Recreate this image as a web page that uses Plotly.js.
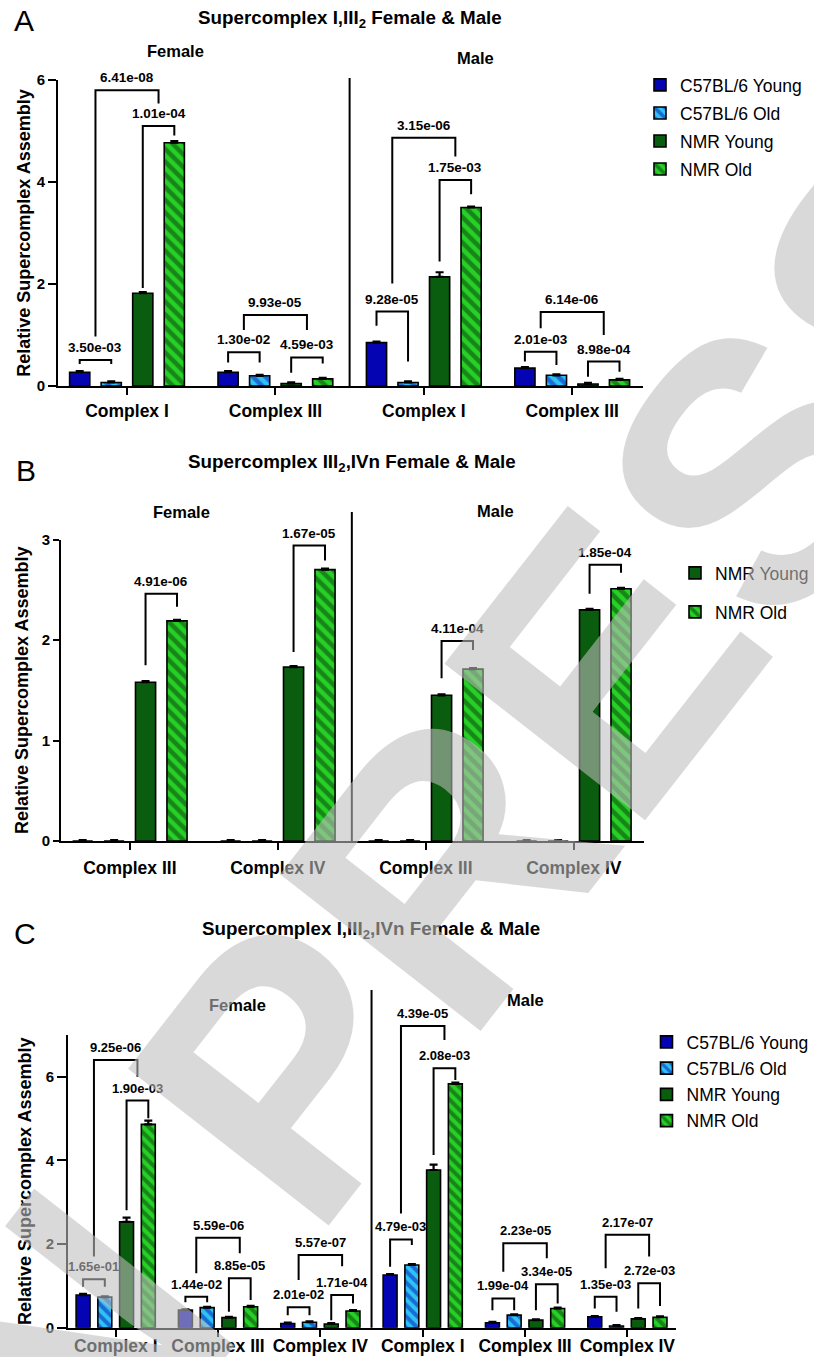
<!DOCTYPE html>
<html><head><meta charset="utf-8">
<script src="https://cdn.plot.ly/plotly-3.0.1.min.js"></script>
<style>html,body{margin:0;padding:0;background:#fff}</style>
</head><body><div id="chart" style="width:814px;height:1357px"></div>
<script>
// ---------------- DATA ----------------
const seriesNames = ['C57BL/6 Young', 'C57BL/6 Old', 'NMR Young', 'NMR Old'];

// Panel A : Supercomplex I,III2
const catsA = ['Complex I', 'Complex III', 'Complex I', 'Complex III'];
const c57YoungA = [0.27, 0.27, 0.85, 0.35];
const c57OldA   = [0.07, 0.20, 0.07, 0.21];
const nmrYoungA = [1.82, 0.05, 2.14, 0.04];
const nmrOldA   = [4.77, 0.14, 3.50, 0.12];
const semC57YoungA = [0.02, 0.02, 0.02, 0.02];
const semC57OldA   = [0.02, 0.02, 0.02, 0.02];
const semNmrYoungA = [0.02, 0.02, 0.09, 0.02];
const semNmrOldA   = [0.03, 0.02, 0.02, 0.02];
// [group, fromBar, toBar, bracket level, left leg end, right leg end, p-value]
const bracketsA = [
  [0, 0, 1, 0.51, 0.43, 0.43, '3.50e-03'],
  [0, 0.5, 2.5, 5.80, 0.97, 5.54, '6.41e-08'],
  [0, 2, 3, 5.10, 1.92, 4.91, '1.01e-04'],
  [1, 0, 1, 0.66, 0.46, 0.46, '1.30e-02'],
  [1, 0.5, 2.5, 1.39, 1.10, 1.10, '9.93e-05'],
  [1, 2, 3, 0.56, 0.26, 0.44, '4.59e-03'],
  [2, 0, 1, 1.46, 1.18, 0.48, '9.28e-05'],
  [2, 0.5, 2.5, 4.87, 2.01, 4.50, '3.15e-06'],
  [2, 2, 3, 4.04, 2.44, 3.76, '1.75e-03'],
  [3, 0, 1, 0.67, 0.48, 0.41, '2.01e-03'],
  [3, 0.5, 2.5, 1.45, 1.13, 1.00, '6.14e-06'],
  [3, 2, 3, 0.48, 0.18, 0.28, '8.98e-04']
];

// Panel B : Supercomplex III2,IVn
const catsB = ['Complex III', 'Complex IV', 'Complex III', 'Complex IV'];
const c57YoungB = [0, 0, 0, 0];
const c57OldB   = [0, 0, 0, 0];
const nmrYoungB = [1.58, 1.73, 1.45, 2.30];
const nmrOldB   = [2.19, 2.70, 1.71, 2.51];
const semC57YoungB = [0.01, 0.01, 0.01, 0.01];
const semC57OldB   = [0.01, 0.01, 0.01, 0.01];
const semNmrYoungB = [0.01, 0.01, 0.01, 0.01];
const semNmrOldB   = [0.01, 0.01, 0.01, 0.01];
const bracketsB = [
  [0, 2, 3, 2.46, 1.75, 2.33, '4.91e-06'],
  [1, 2, 3, 2.94, 1.88, 2.79, '1.67e-05'],
  [2, 2, 3, 1.99, 1.62, 1.90, '4.11e-04'],
  [3, 2, 3, 2.75, 2.46, 2.67, '1.85e-04']
];

// Panel C : Supercomplex I,III2,IVn
const catsC = ['Complex I', 'Complex III', 'Complex IV', 'Complex I', 'Complex III', 'Complex IV'];
const c57YoungC = [0.78, 0.42, 0.10, 1.26, 0.12, 0.26];
const c57OldC   = [0.73, 0.48, 0.13, 1.50, 0.30, 0.04];
const nmrYoungC = [2.53, 0.24, 0.09, 3.77, 0.18, 0.21];
const nmrOldC   = [4.86, 0.50, 0.40, 5.83, 0.46, 0.25];
const semC57YoungC = [0.03, 0.02, 0.02, 0.02, 0.02, 0.02];
const semC57OldC   = [0.02, 0.02, 0.02, 0.02, 0.02, 0.02];
const semNmrYoungC = [0.10, 0.02, 0.02, 0.13, 0.02, 0.02];
const semNmrOldC   = [0.09, 0.02, 0.02, 0.03, 0.02, 0.02];
const bracketsC = [
  [0, 0, 1, 1.16, 0.98, 0.98, '1.65e-01'],
  [0, 0.5, 2.5, 6.40, 1.70, 6.00, '9.25e-06'],
  [0, 2, 3, 5.43, 2.81, 5.01, '1.90e-03'],
  [1, 0, 1, 0.74, 0.61, 0.61, '1.44e-02'],
  [1, 0.5, 2.5, 2.15, 1.30, 1.78, '5.59e-06'],
  [1, 2, 3, 1.18, 0.38, 0.66, '8.85e-05'],
  [2, 0, 1, 0.49, 0.30, 0.30, '2.01e-02'],
  [2, 0.5, 2.5, 1.74, 1.14, 1.47, '5.57e-07'],
  [2, 2, 3, 0.78, 0.18, 0.58, '1.71e-04'],
  [3, 0, 1, 2.11, 1.46, 1.98, '4.79e-03'],
  [3, 0.5, 2.5, 7.21, 2.73, 6.88, '4.39e-05'],
  [3, 2, 3, 6.20, 4.13, 5.92, '2.08e-03'],
  [4, 0, 1, 0.70, 0.42, 0.42, '1.99e-04'],
  [4, 0.5, 2.5, 2.02, 1.34, 1.66, '2.23e-05'],
  [4, 2, 3, 1.04, 0.42, 0.58, '3.34e-05'],
  [5, 0, 1, 0.74, 0.46, 0.38, '1.35e-03'],
  [5, 0.5, 2.5, 2.22, 1.42, 1.70, '2.17e-07'],
  [5, 2, 3, 1.06, 0.46, 0.52, '2.72e-03']
];

const titleA = 'Supercomplex I,III<sub>2</sub> Female & Male';
const titleB = 'Supercomplex III<sub>2</sub>,IVn Female & Male';
const titleC = 'Supercomplex I,III<sub>2</sub>,IVn Female & Male';
const sexLabels = ['Female', 'Male'];
const yTitle = 'Relative Supercomplex Assembly';
const watermark = 'IN PRESS';

// ---------------- STYLE / LAYOUT ----------------
const W = 814, H = 1357;
const FONT = 'Liberation Sans, Arial, Helvetica, sans-serif';
const BARGAP = 0.15, BARGROUPGAP = 0.36;
const SLOT = (1 - BARGAP) / 4;

function seriesStyle(i, psize) {
  if (i === 0) return {color: '#0404b2'};
  if (i === 1) return {color: '#2dc3f5', pattern: {shape: '\\', bgcolor: '#2dc3f5', fgcolor: '#0a14b4', size: psize, solidity: 0.5, fillmode: 'overlay'}};
  if (i === 2) return {color: '#0a5c0e'};
  return {color: '#26d026', pattern: {shape: '\\', bgcolor: '#26d026', fgcolor: '#0a3a0a', size: psize, solidity: 0.5, fillmode: 'overlay'}};
}

const panels = [
  {id: 'A', cats: catsA, series: [c57YoungA, c57OldA, nmrYoungA, nmrOldA], sems: [semC57YoungA, semC57OldA, semNmrYoungA, semNmrOldA],
   brackets: bracketsA, title: titleA, xa: 'x', ya: 'y', legend: 'legend', show: [true, true, true, true],
   xd: [58, 643], xr: [-0.465, 3.477], zero: 386, ppu: 51, ymax: 6, ytv: [0, 2, 4, 6], yticklen: 8, ystand: 1, xlabOff: 1,
   dividerTop: 78, psize: 9, pfont: 13.5, titlePos: [349.5, 19], sexPos: [[175.5, 51], [475, 57.5]], letterPos: [12, 21],
   legendPos: [640, 67], legendGap: 2.3},
  {id: 'B', cats: catsB, series: [c57YoungB, c57OldB, nmrYoungB, nmrOldB], sems: [semC57YoungB, semC57OldB, semNmrYoungB, semNmrOldB],
   brackets: bracketsB, title: titleB, xa: 'x2', ya: 'y2', legend: 'legend2', show: [false, false, true, true],
   xd: [61, 644], xr: [-0.465, 3.474], zero: 841, ppu: 100.5, ymax: 3, ytv: [0, 1, 2, 3], yticklen: 6, ystand: 8, xlabOff: 3,
   dividerTop: 512, psize: 9, pfont: 13.5, titlePos: [351.5, 463], sexPos: [[181.7, 511.5], [495, 511]], letterPos: [14, 471],
   legendPos: [675, 555], legendGap: 13.3},
  {id: 'C', cats: catsC, series: [c57YoungC, c57OldC, nmrYoungC, nmrOldC], sems: [semC57YoungC, semC57OldC, semNmrYoungC, semNmrOldC],
   brackets: bracketsC, title: titleC, xa: 'x3', ya: 'y3', legend: 'legend3', show: [true, true, true, true],
   xd: [68, 676], xr: [-0.466, 5.475], zero: 1327.7, ppu: 41.83, ymax: 7, ytv: [0, 2, 4, 6], yticklen: 9, ystand: 9, xlabOff: -6,
   dividerTop: 990, psize: 8, pfont: 13, titlePos: [371, 930], sexPos: [[237.5, 1005], [525.5, 999.5]], letterPos: [12, 933],
   legendPos: [646.5, 1024], legendGap: 0.5}
];

const traces = [], shapes = [], annotations = [];
const layout = {
  width: W, height: H, margin: {l: 0, r: 0, t: 0, b: 0},
  paper_bgcolor: '#ffffff', plot_bgcolor: 'rgba(0,0,0,0)',
  font: {family: FONT, color: '#000'},
  barmode: 'group', bargap: BARGAP, bargroupgap: BARGROUPGAP,
  showlegend: true
};

function px2x(px) { return px / W; }
function px2y(py) { return 1 - py / H; }

panels.forEach((p, pi) => {
  const sfx = pi === 0 ? '' : String(pi + 1);
  const xs = p.cats.map((c, i) => i);
  const X = v => px2x(p.xd[0] + (v - p.xr[0]) / (p.xr[1] - p.xr[0]) * (p.xd[1] - p.xd[0]));
  const Y = v => px2y(p.zero - v * p.ppu);
  const topPx = p.zero - p.ymax * p.ppu;

  p.series.forEach((vals, si) => {
    const st = seriesStyle(si, p.psize);
    traces.push({
      type: 'bar', x: xs, y: vals, name: seriesNames[si],
      xaxis: p.xa, yaxis: p.ya, legend: p.legend, legendgroup: p.id + si, showlegend: p.show[si],
      marker: Object.assign({line: {color: '#000', width: 1.6}}, st),
      error_y: {type: 'data', array: p.sems[si], arrayminus: p.sems[si].map(() => 0), symmetric: false,
                color: '#000', thickness: 2.2, width: 4},
      hoverinfo: 'skip'
    });
  });

  layout['xaxis' + sfx] = {
    domain: [px2x(p.xd[0]), px2x(p.xd[1])], range: p.xr, anchor: 'y' + sfx,
    tickmode: 'array', tickvals: xs, ticktext: p.cats,
    ticks: 'outside', ticklen: 7, tickwidth: 2, tickcolor: '#000', ticklabelstandoff: p.xlabOff,
    showline: true, linewidth: 2, linecolor: '#000', showgrid: false, zeroline: false,
    tickfont: {size: 17.5, weight: 'bold', family: FONT}, fixedrange: true
  };
  layout['yaxis' + sfx] = {
    domain: [px2y(p.zero), px2y(topPx)], range: [0, p.ymax], anchor: 'x' + sfx,
    tickmode: 'array', tickvals: p.ytv,
    ticks: 'outside', ticklen: p.yticklen, tickwidth: 2, tickcolor: '#000',
    showline: true, linewidth: 2, linecolor: '#000', showgrid: false, zeroline: false,
    tickfont: {size: 15, weight: 'bold', family: FONT}, fixedrange: true,
    title: {text: yTitle, font: {size: 18, weight: 'bold', family: FONT}, standoff: p.ystand}
  };
  layout[p.legend] = {
    x: px2x(p.legendPos[0]), y: px2y(p.legendPos[1]), xanchor: 'left', yanchor: 'top',
    bgcolor: 'rgba(0,0,0,0)', borderwidth: 0, font: {size: 17.5, family: FONT},
    traceorder: 'grouped', tracegroupgap: p.legendGap
  };

  // divider between Female and Male
  const divX = X((p.cats.length - 1) / 2);
  shapes.push({type: 'line', xref: 'paper', yref: 'paper', x0: divX, x1: divX, y0: Y(0), y1: px2y(p.dividerTop),
               line: {color: '#000', width: 2}});

  // significance brackets
  p.brackets.forEach(b => {
    const [g, kL, kR, lev, eL, eR, lab] = b;
    const xL = X(g + (kL - 1.5) * SLOT), xR = X(g + (kR - 1.5) * SLOT);
    shapes.push({type: 'path', xref: 'paper', yref: 'paper',
      path: `M ${xL},${Y(eL)} L ${xL},${Y(lev)} L ${xR},${Y(lev)} L ${xR},${Y(eR)}`,
      line: {color: '#000', width: 2}});
    annotations.push({xref: 'paper', yref: 'paper', x: (xL + xR) / 2, y: Y(lev) + 12.5 / H,
      xanchor: 'center', yanchor: 'middle', showarrow: false, text: lab,
      font: {size: p.pfont, weight: 'bold', family: FONT, color: '#000'}});
  });

  // panel title, sex labels, letter
  annotations.push({xref: 'paper', yref: 'paper', x: px2x(p.titlePos[0]), y: px2y(p.titlePos[1]),
    xanchor: 'center', yanchor: 'middle', showarrow: false, text: p.title,
    font: {size: 18.8, weight: 'bold', family: FONT}});
  sexLabels.forEach((s, i) => annotations.push({xref: 'paper', yref: 'paper',
    x: px2x(p.sexPos[i][0]), y: px2y(p.sexPos[i][1]), xanchor: 'center', yanchor: 'middle', showarrow: false,
    text: s, font: {size: 16.5, weight: 'bold', family: FONT}}));
  annotations.push({xref: 'paper', yref: 'paper', x: px2x(p.letterPos[0]), y: px2y(p.letterPos[1]),
    xanchor: 'left', yanchor: 'middle', showarrow: false, text: p.id, font: {size: 30, family: FONT}});
});

// watermark
annotations.push({xref: 'paper', yref: 'paper', x: px2x(452), y: px2y(858), xanchor: 'center', yanchor: 'middle',
  showarrow: false, text: watermark, textangle: -52,
  font: {size: 370, weight: 'bold', family: FONT, color: 'rgba(190,190,190,0.58)'}});

layout.shapes = shapes;
layout.annotations = annotations;

Plotly.newPlot('chart', traces, layout, {displayModeBar: false, staticPlot: true});
</script></body></html>
